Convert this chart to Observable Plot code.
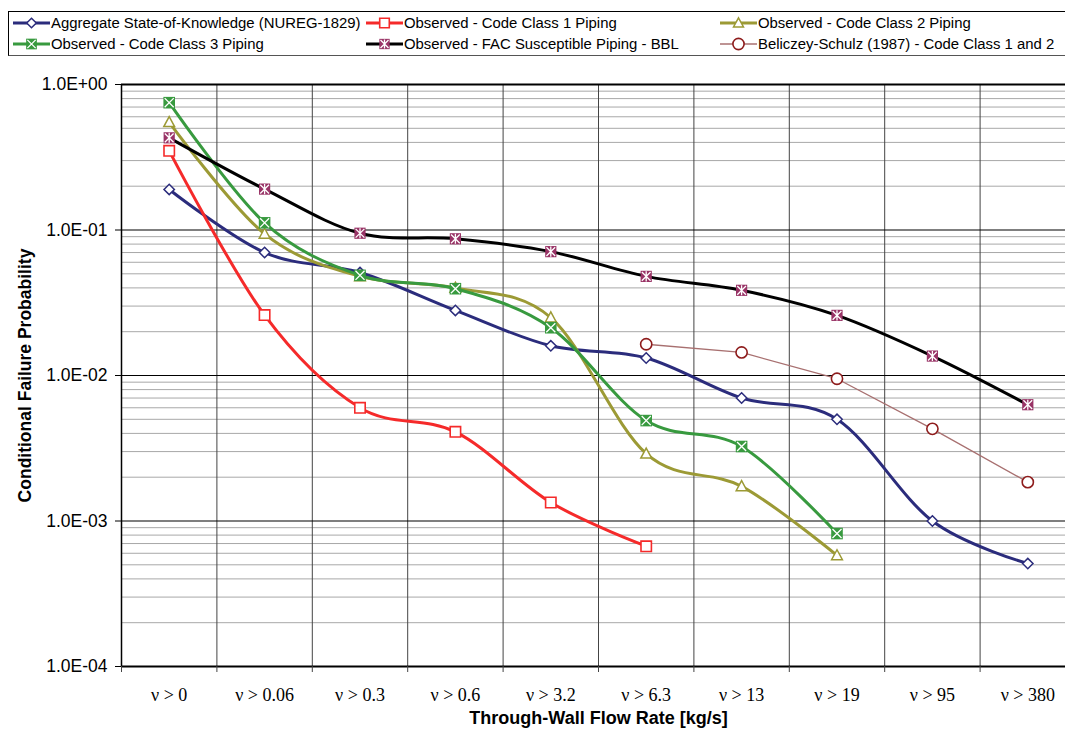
<!DOCTYPE html>
<html><head><meta charset="utf-8">
<script src="https://cdn.jsdelivr.net/npm/d3@7"></script>
<script src="https://cdn.jsdelivr.net/npm/@observablehq/plot@0.6"></script>
<style>
html,body{margin:0;padding:0;background:#fff;overflow:hidden;width:1065px;height:736px;}
#legend{position:relative;height:62px;font-family:"Liberation Sans",Arial,sans-serif;font-size:14.9px;color:#000;}
#legend .box{position:absolute;left:8px;top:11px;width:1100px;height:43px;border:1px solid #000;border-bottom-color:#555;}
#legend .item{position:absolute;display:flex;align-items:center;white-space:nowrap;height:20px;}
#legend svg{display:block;}
#chart svg{display:block;}
</style></head><body>
<div id="legend"><div class="box"></div></div>
<div id="chart"></div>
<script>
// ---- data ----
const categories = ["ν > 0","ν > 0.06","ν > 0.3","ν > 0.6","ν > 3.2","ν > 6.3","ν > 13","ν > 19","ν > 95","ν > 380"];
const aggregate   = [0.19, 0.070, 0.051, 0.028, 0.016, 0.0132, 0.0070, 0.0050, 0.0010, 0.00051];
const codeClass1  = [0.35, 0.026, 0.0060, 0.0041, 0.00134, 0.00067, null, null, null, null];
const codeClass2  = [0.55, 0.094, 0.048, 0.040, 0.025, 0.0029, 0.00173, 0.00058, null, null];
const codeClass3  = [0.75, 0.112, 0.0488, 0.0395, 0.0213, 0.0049, 0.00325, 0.00082, null, null];
const facBBL      = [0.43, 0.191, 0.095, 0.087, 0.071, 0.048, 0.0385, 0.0259, 0.0136, 0.0063];
const beliczey    = [null, null, null, null, null, 0.0164, 0.0144, 0.0095, 0.0043, 0.00185];
const yTicks = [1, 0.1, 0.01, 0.001, 0.0001];
const seriesNames = [
  "Aggregate State-of-Knowledge (NUREG-1829)",
  "Observed - Code Class 1 Piping",
  "Observed - Code Class 2 Piping",
  "Observed - Code Class 3 Piping",
  "Observed - FAC Susceptible Piping - BBL",
  "Beliczey-Schulz (1987) - Code Class 1 and 2"
];
const yLabel = "Conditional Failure Probability";
const xLabel = "Through-Wall Flow Rate [kg/s]";

// ---- custom symbols (size = π r², so r is half-extent in px) ----
const rr = s => Math.sqrt(s / Math.PI);
const symSquare = {draw(c, s){const r = rr(s); c.moveTo(-r,-r); c.lineTo(r,-r); c.lineTo(r,r); c.lineTo(-r,r); c.closePath();}};
const symDiamond = {draw(c, s){const r = rr(s); c.moveTo(0,-r); c.lineTo(r,0); c.lineTo(0,r); c.lineTo(-r,0); c.closePath();}};
const symTriangle = {draw(c, s){const r = rr(s); c.moveTo(0,-r*1.05); c.lineTo(r,r*0.8); c.lineTo(-r,r*0.8); c.closePath();}};
const symX = {draw(c, s){const r = rr(s); c.moveTo(-r,-r); c.lineTo(r,r); c.moveTo(-r,r); c.lineTo(r,-r);}};
const symStar = {draw(c, s){const r = rr(s); c.moveTo(-r,-r); c.lineTo(r,r); c.moveTo(-r,r); c.lineTo(r,-r); c.moveTo(0,-r*1.15); c.lineTo(0,r*1.15);}};

const styles = [
  {values: aggregate,  line:"#2b2c7c", lw:3,   curve:"cardinal", symbol:symDiamond,  r:5.2, fill:"#fff",    mstroke:"#2b2c7c", mw:1.5},
  {values: codeClass1, line:"#f52a2a", lw:3,   curve:"cardinal", symbol:symSquare,   r:5.2, fill:"#fff",    mstroke:"#f52a2a", mw:1.6},
  {values: codeClass2, line:"#9c9a35", lw:3,   curve:"cardinal", symbol:symTriangle, r:5.4, fill:"#fff",    mstroke:"#9c9a35", mw:1.5},
  {values: codeClass3, line:"#389a3f", lw:3,   curve:"cardinal", symbol:symSquare,   r:5.8, fill:"#389a3f", mstroke:"none",    mw:0, overlay:symX},
  {values: facBBL,     line:"#000000", lw:3,   curve:"cardinal", symbol:symSquare,   r:5.6, fill:"#993366", mstroke:"none",    mw:0, overlay:symStar},
  {values: beliczey,   line:"#a87070", lw:1.3, curve:"linear",   symbol:"circle",    r:5.6, fill:"#fff",    mstroke:"#8e1c1c", mw:1.6}
];

const pts = styles.map(s => s.values.map((v, i) => ({x: i + 0.5, y: v})).filter(d => d.y != null));

const minor = [];
for (let e = -4; e < 0; e++) for (let k = 2; k <= 9; k++) minor.push(k * Math.pow(10, e));
const fmtE = d => {const e = Math.round(Math.log10(d)); return "1.0E" + (e >= 0 ? "+" : "-") + String(Math.abs(e)).padStart(2, "0");};

const marks = [
  Plot.ruleY(minor, {y: d => d, stroke: "#a8a8a8", strokeWidth: 1}),
  Plot.ruleX(d3.range(1, 11), {x: d => d, stroke: "#444", strokeWidth: 1}),
  Plot.ruleY([0.1, 0.01, 0.001], {y: d => d, stroke: "#000", strokeWidth: 1.2}),
  Plot.ruleY([1, 0.0001], {y: d => d, stroke: "#000", strokeWidth: 2}),
  Plot.ruleX([0], {x: d => d, stroke: "#000", strokeWidth: 1.5}),
  Plot.axisY({ticks: yTicks, tickFormat: fmtE, tickSize: 6, tickPadding: 8, fontSize: 17.5, label: null}),
  Plot.axisX({ticks: d3.range(0, 11), tickSize: 6, tickFormat: () => "", label: null, stroke: "#444"}),
  Plot.axisX({ticks: d3.range(10).map(i => i + 0.5), tickSize: 0, tickPadding: 22, tickFormat: d => categories[Math.floor(d)],
    fontFamily: "'Liberation Serif','Times New Roman',serif", fontSize: 18, label: null}),
  Plot.text([yLabel], {text: d => d, frameAnchor: "left", textAnchor: "middle", lineAnchor: "middle", rotate: -90, dx: -96, fontWeight: "bold", fontSize: 17.5}),
  Plot.text([xLabel], {text: d => d, frameAnchor: "bottom", lineAnchor: "middle", dy: 52, fontWeight: "bold", fontSize: 18})
];
styles.forEach((s, k) => {
  marks.push(Plot.line(pts[k], {x: "x", y: "y", stroke: s.line, strokeWidth: s.lw, curve: s.curve}));
  marks.push(Plot.dot(pts[k], {x: "x", y: "y", symbol: s.symbol, r: s.r, fill: s.fill, stroke: s.mstroke, strokeWidth: s.mw}));
  if (s.overlay) marks.push(Plot.dot(pts[k], {x: "x", y: "y", symbol: s.overlay, r: s.r * 0.78, stroke: "#fff", strokeWidth: 1.3, fill: "none"}));
});

const chart = Plot.plot({
  width: 1075, height: 674,
  marginLeft: 121, marginRight: 0, marginTop: 22, marginBottom: 70,
  style: {maxWidth: "none", fontFamily: "'Liberation Sans',Arial,sans-serif", color: "#000", background: "#fff"},
  x: {type: "linear", domain: [0, 10]},
  y: {type: "log", domain: [0.0001, 1]},
  marks
});
document.getElementById("chart").appendChild(chart);

// ---- legend ----
const legendPos = [[13, 23], [366, 23], [720, 23], [13, 44], [366, 44], [720, 44]];
const legend = document.getElementById("legend");
styles.forEach((s, k) => {
  const item = document.createElement("div");
  item.className = "item";
  item.style.left = legendPos[k][0] + "px";
  item.style.top = (legendPos[k][1] - 10) + "px";
  const W = 37, H = 20;
  const svg = d3.create("svg").attr("width", W).attr("height", H);
  svg.append("line").attr("x1", 0).attr("x2", W).attr("y1", H/2).attr("y2", H/2).attr("stroke", s.line).attr("stroke-width", s.lw);
  const symType = s.symbol === "circle" ? d3.symbolCircle : s.symbol;
  const sz = Math.PI * s.r * s.r * (s.symbol === "circle" ? 1 : 0.85);
  svg.append("path").attr("transform", `translate(${W/2},${H/2})`).attr("d", d3.symbol(symType, sz)())
    .attr("fill", s.fill).attr("stroke", s.mstroke).attr("stroke-width", s.mw);
  if (s.overlay) svg.append("path").attr("transform", `translate(${W/2},${H/2})`).attr("d", d3.symbol(s.overlay, sz * 0.6)())
    .attr("fill", "none").attr("stroke", "#fff").attr("stroke-width", 1.3);
  item.appendChild(svg.node());
  const t = document.createElement("span");
  t.textContent = seriesNames[k];
  t.style.marginLeft = "1px";
  item.appendChild(t);
  legend.appendChild(item);
});
</script>
</body></html>
